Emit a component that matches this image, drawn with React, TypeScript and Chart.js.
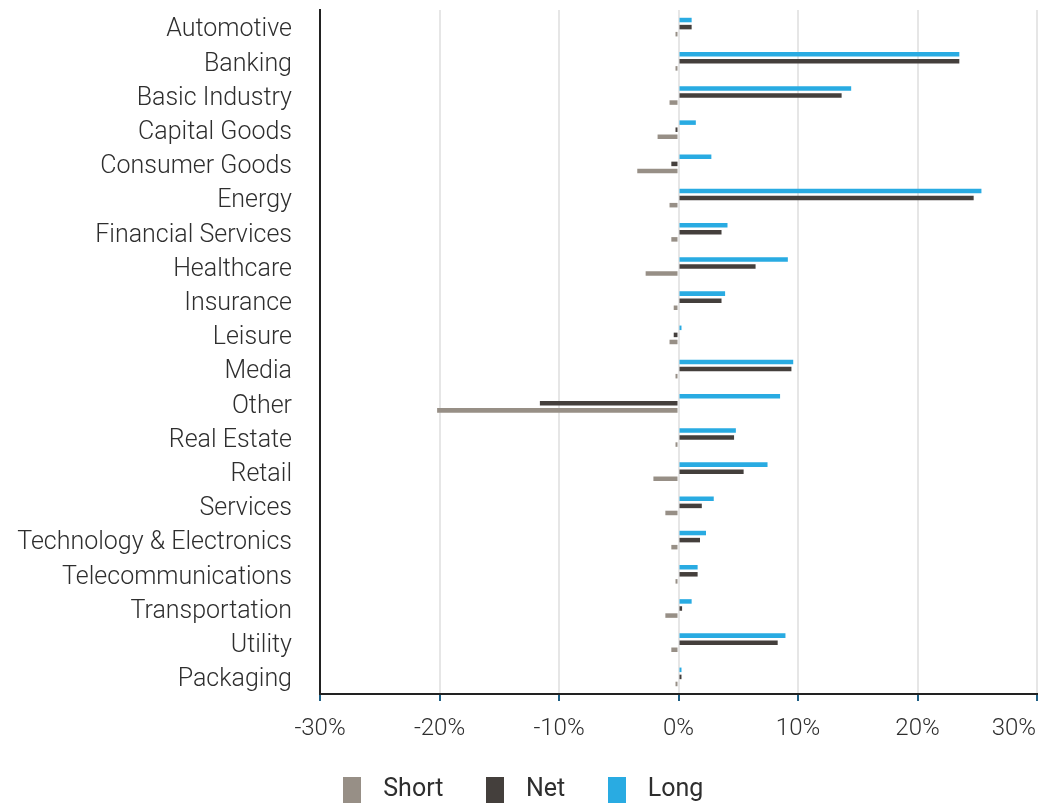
import React, { useEffect, useRef } from 'react';
import { Chart, registerables } from 'chart.js';

Chart.register(...registerables);

const categories = [
  'Automotive',
  'Banking',
  'Basic Industry',
  'Capital Goods',
  'Consumer Goods',
  'Energy',
  'Financial Services',
  'Healthcare',
  'Insurance',
  'Leisure',
  'Media',
  'Other',
  'Real Estate',
  'Retail',
  'Services',
  'Technology & Electronics',
  'Telecommunications',
  'Transportation',
  'Utility',
  'Packaging',
];

const longValues = [1.1, 23.5, 14.45, 1.45, 2.75, 25.35, 4.1, 9.15, 3.9, 0.25, 9.6, 8.5, 4.8, 7.45, 2.95, 2.3, 1.6, 1.1, 8.95, 0.25];
const netValues = [1.1, 23.5, 13.65, -0.25, -0.6, 24.7, 3.6, 6.45, 3.6, -0.4, 9.45, -11.6, 4.65, 5.45, 1.95, 1.8, 1.6, 0.3, 8.3, 0.25];
const shortValues = [-0.25, -0.25, -0.75, -1.75, -3.45, -0.75, -0.6, -2.75, -0.4, -0.75, -0.25, -20.2, -0.25, -2.1, -1.1, -0.6, -0.25, -1.1, -0.6, -0.25];

const seriesNames = ['Long', 'Net', 'Short'];
const seriesColors = ['#29abe2', '#443f3c', '#978f86'];
const legendOrder = [2, 1, 0];

const xMin = -30;
const xMax = 30;
const xStep = 10;

const FONT = 'Roboto, "Noto Sans", sans-serif';
const TEXT_COLOR = '#2e2e2e';

function makeBox(color: string): HTMLCanvasElement {
  const c = document.createElement('canvas');
  c.width = 18;
  c.height = 26;
  const ctx = c.getContext('2d');
  if (ctx) {
    ctx.fillStyle = color;
    ctx.fillRect(0, 0, 18, 26);
  }
  return c;
}

const lastLabelPlugin = {
  id: 'lastLabelShift',
  beforeDraw(chart: any) {
    const xs = chart.scales.x;
    if (!xs || !xs.getLabelItems) return;
    const items = xs.getLabelItems();
    if (!items || !items.length) return;
    const last = items[items.length - 1];
    last.options.textAlign = 'right';
    last.options.translation[0] = xs.right - 1;
  },
};

export default function App() {
  const ref = useRef<HTMLCanvasElement | null>(null);

  useEffect(() => {
    if (!ref.current) return;
    const boxes = seriesColors.map((c) => makeBox(c));
    const values = [longValues, netValues, shortValues];
    const chart = new Chart(ref.current, {
      type: 'bar',
      data: {
        labels: categories,
        datasets: seriesNames.map((name, i) => ({
          label: name,
          data: values[i],
          backgroundColor: seriesColors[i],
          borderWidth: 0,
          categoryPercentage: 0.62,
          barPercentage: 0.64,
        })),
      },
      options: {
        indexAxis: 'y',
        animation: false,
        responsive: false,
        devicePixelRatio: 1,
        layout: { padding: { top: 10, right: 13, bottom: 0, left: 0 } },
        plugins: {
          tooltip: { enabled: false },
          legend: {
            position: 'bottom',
            maxHeight: 67,
            labels: {
              usePointStyle: true,
              pointStyleWidth: 37,
              padding: 33,
              color: TEXT_COLOR,
              font: { size: 25, family: FONT, weight: '400' },
              generateLabels: (ch: any) =>
                legendOrder.map((i) => ({
                  text: ch.data.datasets[i].label,
                  fillStyle: seriesColors[i],
                  strokeStyle: seriesColors[i],
                  lineWidth: 0,
                  pointStyle: boxes[i],
                  hidden: !ch.isDatasetVisible(i),
                  datasetIndex: i,
                  fontColor: TEXT_COLOR,
                })),
            },
          },
        },
        scales: {
          x: {
            type: 'linear',
            min: xMin,
            max: xMax,
            ticks: {
              stepSize: xStep,
              padding: 14,
              color: TEXT_COLOR,
              font: { size: 24, family: FONT, weight: '300' },
              maxRotation: 0,
              callback: (v: any) => `${v}%`,
            },
            grid: {
              color: '#e6e6e6',
              lineWidth: 2,
              drawTicks: true,
              tickLength: 7,
              tickColor: '#1f5f84',
              tickWidth: 2,
            },
            border: { display: true, color: '#222222', width: 2 },
            afterFit: (scale: any) => {
              scale.height = 50;
              scale.paddingRight = 0;
            },
          },
          y: {
            type: 'category',
            ticks: {
              padding: 28,
              labelOffset: 3,
              color: TEXT_COLOR,
              font: { size: 25, family: FONT, weight: '300' },
              autoSkip: false,
            },
            grid: { display: false, drawTicks: false },
            border: { display: true, color: '#222222', width: 2 },
            afterFit: (scale: any) => {
              scale.width = 320;
              scale.paddingTop = 0;
              scale.paddingBottom = 0;
            },
          },
        },
      },
      plugins: [lastLabelPlugin],
    } as any);
    return () => chart.destroy();
  }, []);

  return (
    <div style={{ position: 'absolute', left: 0, top: 0, width: 1050, height: 811 }}>
      <canvas ref={ref} width={1050} height={811} style={{ display: 'block', width: 1050, height: 811 }} />
    </div>
  );
}
